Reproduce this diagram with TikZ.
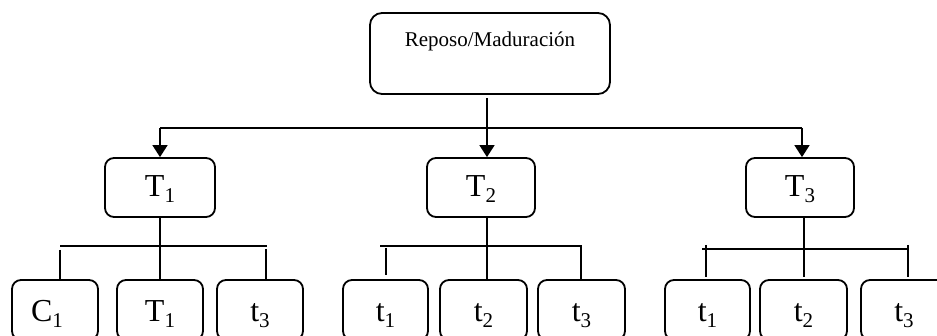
\documentclass[tikz,border=0pt]{standalone}
\usepackage{fontspec}
\setmainfont{Liberation Serif}
\usetikzlibrary{arrows.meta}
% lowered, smaller index after a letter
\newcommand{\lowsub}[1]{\raisebox{-0.17em}{\fontsize{21}{21}\selectfont #1}}
\begin{document}
\begin{tikzpicture}[x=1pt,y=-1pt,
  box/.style={draw, line width=1.8pt, rounded corners=9pt, inner xsep=0pt, inner ysep=0pt},
  bigtext/.style={font=\fontsize{32}{32}\selectfont},
  tbox/.style={box, bigtext, minimum width=108pt, text height=39pt, text depth=20pt},
  leaf/.style={box, bigtext, minimum width=86pt, text height=42pt, text depth=18pt},
  link/.style={line width=1.6pt},
  arrowlink/.style={link, -{Triangle[width=15pt,length=12pt]}},
]
\useasboundingbox (0,0) rectangle (937,336);

% root
\node[box, rounded corners=12pt, minimum width=240pt, text height=34pt, text depth=47pt,
      font=\fontsize{21}{21}\selectfont] (root) at (490,53.5) {Reposo/Maduración};

% second level
\node[tbox, minimum width=110pt] (T1) at (160,187.5) {T\lowsub{1}};
\node[tbox] (T2) at (481,187.5) {T\lowsub{2}};
\node[tbox] (T3) at (800,187.5) {T\lowsub{3}};

% leaves
\node[leaf] (a1) at (55,310) {\hspace*{-16pt}C\lowsub{1}};
\node[leaf] (a2) at (160,310) {T\lowsub{1}};
\node[leaf] (a3) at (260,310) {t\lowsub{3}};
\node[leaf, minimum width=85pt] (b1) at (385.5,310) {t\lowsub{1}};
\node[leaf, minimum width=87pt] (b2) at (483.5,310) {t\lowsub{2}};
\node[leaf, minimum width=87pt] (b3) at (581.5,310) {t\lowsub{3}};
\node[leaf, minimum width=85pt] (c1) at (707.5,310) {t\lowsub{1}};
\node[leaf, minimum width=87pt] (c2) at (803.5,310) {t\lowsub{2}};
\node[leaf] (c3) at (904,310) {t\lowsub{3}};

% root to second level
\coordinate (busL) at (160,128);
\coordinate (busR) at (802,128);
\draw[arrowlink] ([xshift=-3pt,yshift=-3pt]root.south) -- ([xshift=-3pt]root.south |- T2.north);
\draw[link] (busL) -- (busR);
\draw[arrowlink] (busL) -- (busL |- T1.north);
\draw[arrowlink] (busR) -- (busR |- T3.north);

% T1 group
\coordinate (g1L) at (60,246);
\coordinate (g1R) at (267,246);
\coordinate (g1Lt) at (60,250);
\coordinate (g1Rt) at (266,249);
\draw[link] (T1.south) -- (a2.north);
\draw[link] (g1L) -- (g1R);
\draw[link] (g1Lt) -- (g1Lt |- a1.north);
\draw[link] (g1Rt) -- (g1Rt |- a3.north);

% T2 group
\coordinate (g2L) at (380,246);
\coordinate (g2R) at (582,246);
\coordinate (g2M) at (487,246);
\coordinate (g2Lt) at (386,248);
\coordinate (g2Rt) at (581,246);
\draw[link] (T2.south -| g2M) -- (g2M |- b2.north);
\draw[link] (g2L) -- (g2R);
\draw[link] (g2Lt) -- ([yshift=4pt]g2Lt |- b1.north);
\draw[link] (g2Rt) -- (g2Rt |- b3.north);

% T3 group
\coordinate (g3L) at (702,249);
\coordinate (g3R) at (908,249);
\coordinate (g3M) at (804,249);
\coordinate (g3Lt) at (706,245);
\coordinate (g3Rt) at (908,245);
\draw[link] (T3.south -| g3M) -- ([yshift=2pt]g3M |- c2.north);
\draw[link] (g3L) -- (g3R);
\draw[link] (g3Lt) -- ([yshift=2pt]g3Lt |- c1.north);
\draw[link] (g3Rt) -- ([yshift=2pt]g3Rt |- c3.north);
\end{tikzpicture}
\end{document}
